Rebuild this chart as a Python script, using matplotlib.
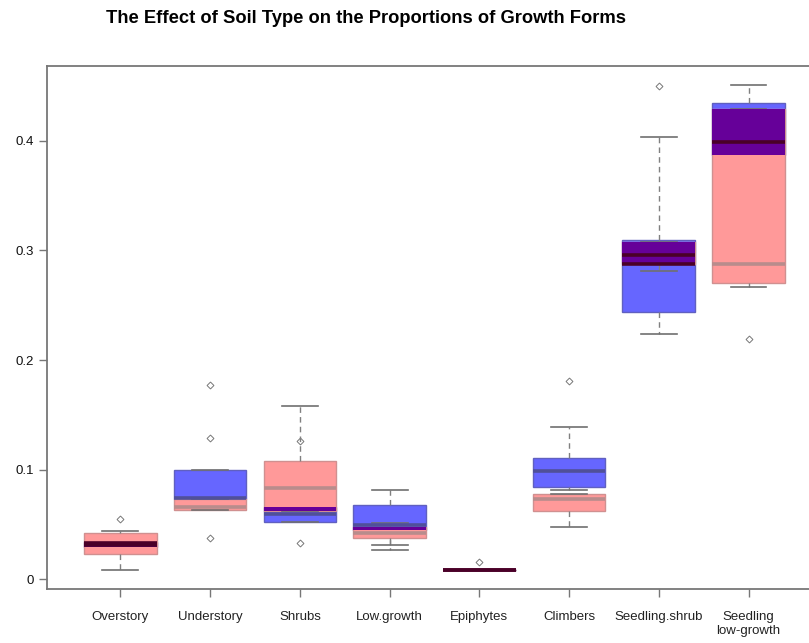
import matplotlib.pyplot as plt
import numpy as np

plt.rcParams['font.family'] = ['Liberation Sans', 'DejaVu Sans']

categories = ["Overstory", "Understory", "Shrubs", "Low.growth", "Epiphytes",
              "Climbers", "Seedling.shrub", "Seedling\nlow-growth"]

# first soil type (blue boxes)
blue_whislo = [0.0255, 0.0674, 0.0522, 0.031, 0.0085, 0.0817, 0.2239, 0.387]
blue_q1 = [0.030, 0.0735, 0.0522, 0.0447, 0.0085, 0.0845, 0.2436, 0.387]
blue_med = [0.0335, 0.074, 0.060, 0.0498, 0.0085, 0.099, 0.2955, 0.399]
blue_q3 = [0.0345, 0.0999, 0.0659, 0.068, 0.0085, 0.1106, 0.3095, 0.434]
blue_whishi = [0.0345, 0.0999, 0.0659, 0.0817, 0.0085, 0.139, 0.4034, 0.4508]
blue_fliers = [[0.0547], [0.177, 0.1288, 0.0377], [0.126, 0.033], [], [0.016], [0.181], [0.4498], []]

# second soil type (pink boxes)
pink_whislo = [0.009, 0.063, 0.062, 0.0264, 0.0085, 0.048, 0.2813, 0.2667]
pink_q1 = [0.0228, 0.063, 0.062, 0.0376, 0.0085, 0.062, 0.2873, 0.2703]
pink_med = [0.031, 0.066, 0.083, 0.0419, 0.0085, 0.0735, 0.2873, 0.2873]
pink_q3 = [0.0419, 0.0735, 0.108, 0.0477, 0.0085, 0.078, 0.3074, 0.4285]
pink_whishi = [0.0446, 0.0735, 0.158, 0.0517, 0.0085, 0.078, 0.3074, 0.4285]
pink_fliers = [[], [], [], [], [], [], [], [0.2193]]

yticks = [0, 0.1, 0.2, 0.3, 0.4]
ytick_labels = ["0", "0.1", "0.2", "0.3", "0.4"]


def make_stats(lo, q1, med, q3, hi, fliers):
    stats = []
    for i in range(len(q1)):
        stats.append(dict(whislo=lo[i], q1=q1[i], med=med[i], q3=q3[i],
                          whishi=hi[i], fliers=fliers[i]))
    return stats


fig = plt.figure(figsize=(8.09, 6.43), dpi=100)
ax = fig.add_axes([0.058, 0.084, 0.942, 0.813])

positions = np.arange(1, len(categories) + 1)
box_w = 0.81

common = dict(positions=positions, widths=box_w, capwidths=0.4, patch_artist=True,
              whiskerprops=dict(color='#808080', linestyle=(0, (4, 3)), linewidth=1),
              capprops=dict(color='#707070', linewidth=1.2),
              flierprops=dict(marker='D', markersize=3.5, markerfacecolor='none',
                              markeredgecolor='#777777', markeredgewidth=0.7),
              medianprops=dict(linewidth=0))

ax.bxp(make_stats(blue_whislo, blue_q1, blue_med, blue_q3, blue_whishi, blue_fliers),
       boxprops=dict(facecolor='#6666ff', edgecolor='#6060c0', linewidth=1), **common)
ax.bxp(make_stats(pink_whislo, pink_q1, pink_med, pink_q3, pink_whishi, pink_fliers),
       boxprops=dict(facecolor='#ff9999', edgecolor='#d09090', linewidth=1), **common)

# where the two boxes overlap the colours mix to a dark purple
for i, p in enumerate(positions):
    lo = max(blue_q1[i], pink_q1[i])
    hi = min(blue_q3[i], pink_q3[i])
    if hi > lo:
        ax.bar(p, hi - lo, bottom=lo, width=box_w, color='#660099', zorder=3)

for i, p in enumerate(positions):
    lo = max(blue_q1[i], pink_q1[i])
    hi = min(blue_q3[i], pink_q3[i])
    for med, plain in [(blue_med[i], '#50509a'), (pink_med[i], '#b88c8c')]:
        col = '#4a0028' if lo <= med <= hi else plain
        ax.hlines(med, p - box_w / 2, p + box_w / 2, color=col, linewidth=2.6, zorder=4)

ax.set_xlim(0.181, 8.674)
ax.set_ylim(-0.0087, 0.4679)
ax.set_xticks(positions)
ax.set_xticklabels(categories, fontsize=9.5, color='#222222')
ax.set_yticks(yticks)
ax.set_yticklabels(ytick_labels, fontsize=9.5, color='#111111')
ax.tick_params(axis='both', length=6, color='#777777', width=1)
ax.tick_params(axis='x', pad=10)

for side in ['left', 'top', 'bottom']:
    ax.spines[side].set_color('#777777')
    ax.spines[side].set_linewidth(1.3)
ax.spines['right'].set_visible(False)

fig.text(0.4524, 0.971, "The Effect of Soil Type on the Proportions of Growth Forms",
         ha='center', va='center', fontsize=13.2, fontweight='bold')

fig.savefig("out.png", dpi=100)
